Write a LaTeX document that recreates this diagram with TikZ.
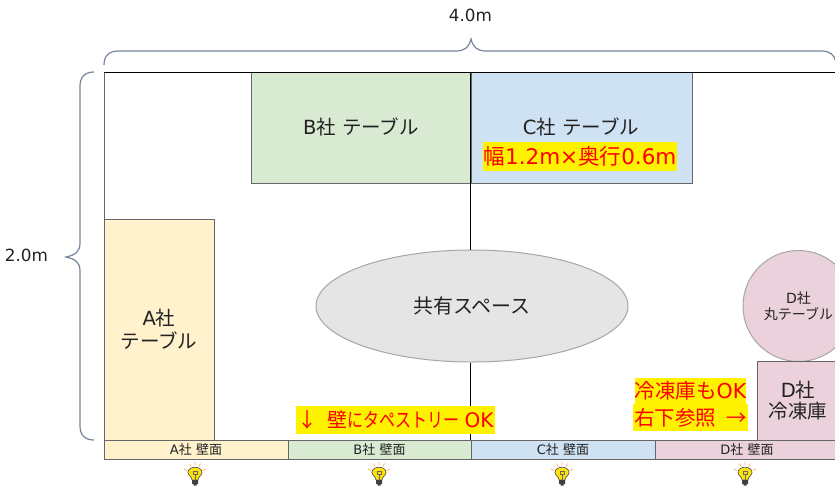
\documentclass[tikz,border=0pt]{standalone}
\usepackage{fontspec}
\setmainfont{DejaVu Sans}
\newfontfamily\jpfont{Noto Sans CJK JP}
\newfontfamily\jpnarrow[FakeStretch=0.8]{Noto Sans CJK JP}
\usetikzlibrary{shapes.geometric}
\definecolor{lineg}{HTML}{666666}
\definecolor{brc}{HTML}{74849B}
\definecolor{txt}{HTML}{222222}
\definecolor{compA}{HTML}{FFF2CC}
\definecolor{compB}{HTML}{D9EAD3}
\definecolor{compC}{HTML}{CFE2F3}
\definecolor{compD}{HTML}{EAD1DC}
\newcommand{\fs}[1]{\fontsize{#1}{#1}\selectfont}
\newcommand{\jp}[1]{{\jpfont #1}}
\begin{document}
\begin{tikzpicture}[x=1pt,y=-1pt,
	every node/.style={text=txt,inner sep=0,align=center},
	tbl/.style={rectangle,draw=lineg,line width=1pt,minimum width=#1},
	wall/.style={tbl=#1,minimum height=19pt,font=\fs{13}},
	note/.style={fill=yellow,text=red,font=\fs{#1}},
	brc/.style={draw=brc,line width=1.2pt},
	bulb/.pic={
		\draw[orange!60,line width=.7pt] (-11,-6.5) -- (-8,-5) (-5.5,-12) -- (-4,-9) (0,-14) -- (0,-10) (5.5,-12) -- (4,-9) (11,-6.5) -- (8,-5);
		\fill[yellow!85!orange,draw=black!65,line width=.7pt] (-3,4.5) .. controls (-3,1) and (-7,0) .. (-7,-3) .. controls (-7,-10) and (7,-10) .. (7,-3) .. controls (7,0) and (3,1) .. (3,4.5) -- cycle;
		\draw[black!60,line width=.5pt] (-2,-4) rectangle (2,-1) (0,-1) -- (0,4.5);
		\fill[black!75] (-3,4.5) rectangle (3,8.5) (-1.5,8.5) rectangle (1.5,10);
	}]
\useasboundingbox (0,0) rectangle (835,488);
% room
\coordinate (tl) at (104,72);
\coordinate (tr) at (835,72);
\coordinate (bl) at (104,440);
\draw[lineg,line width=1pt] (tl) -- (bl);
% tables
\node[tbl=220pt,minimum height=111pt,fill=compB] (tableB) at (361,127.5) {};
\node[tbl=221pt,minimum height=111pt,fill=compC] (tableC) at (581.5,127.5) {};
\node[font=\fs{19.5}] (labelB) at (361,127) {B\jp{社} \jp{テーブル}};
\node[font=\fs{19.5}] (labelC) at (581,127) {C\jp{社} \jp{テーブル}};
\node[note=21.5,minimum width=194pt,minimum height=29pt] (sizeC) at (580,156.5) {\jp{幅}1.2m×\jp{奥行}0.6m};
\node[tbl=110pt,minimum height=221pt,fill=compA,font=\fs{19.5}] (tableA) at (159,329.5) {A\jp{社}\\[3pt]\jp{テーブル}};
\node[ellipse,draw=black!35,line width=1pt,fill=black!10,minimum width=312pt,minimum height=112pt,font=\fs{20}] (shared) at (472,306) {\jp{共有スペース}};
\draw[black,line width=1pt] (tableC.north west) -- (tableC.north west |- shared.north);
\draw[black,line width=1pt] (tableC.north west |- shared.south) -- (tableC.north west |- bl);
\draw[black,line width=1pt] (tl) -- (tr);
\node[circle,draw=black!35,line width=1pt,fill=compD,minimum size=111pt,font=\fs{14}] (tableD) at (798.5,306) {D\jp{社}\\[2pt]\jp{丸テーブル}};
\node[tbl=82pt,minimum height=79pt,fill=compD,font=\fs{19.5}] (fridge) at (798,400.5) {D\jp{社}\\[2pt]\jp{冷凍庫}};
% notes
\node[note=20,minimum width=199pt,minimum height=28pt] (wallnote) at (395.5,420) {\jp{↓}\hspace{10pt}\jp{壁}{\jpnarrow にタペストリー}\hspace{5pt}OK};
\node[note=20.5,minimum width=111pt,minimum height=26pt] (fridgeA) at (690.5,391) {\jp{冷凍庫も}OK};
\node[note=20.5,minimum width=115pt,minimum height=27pt] (fridgeB) at (690.5,417.5) {\jp{右下参照}\hspace{10pt}\jp{→}};
% wall strip
\node[wall=184pt,fill=compA] (wallA) at (196,449.5) {A\jp{社} \jp{壁面}};
\node[wall=183pt,fill=compB] (wallB) at (379.5,449.5) {B\jp{社} \jp{壁面}};
\node[wall=184pt,fill=compC] (wallC) at (563,449.5) {C\jp{社} \jp{壁面}};
\node[wall=184pt,fill=compD] (wallD) at (747,449.5) {D\jp{社} \jp{壁面}};
\foreach \x in {195,379,562,745}
	\pic at (\x,475.5) {bulb};
% braces
\draw[brc] (104,65) .. controls (104,56) and (109,51) .. (118,51) -- (456,51) .. controls (465,51) and (469,47) .. (471,39) .. controls (473,47) and (477,51) .. (486,51) -- (822,51) .. controls (830,51) and (835,56) .. (835,60);
\draw[brc] (94,72) .. controls (85,72) and (80,77) .. (80,86) -- (80,243) .. controls (80,252) and (75,255) .. (66,257) .. controls (75,259) and (80,262) .. (80,271) -- (80,426) .. controls (80,435) and (85,440) .. (94,440);
\node[font=\fs{16.8}] (width) at (470.5,15) {4.0m};
\node[font=\fs{16.8}] (height) at (26.5,255) {2.0m};
\end{tikzpicture}
\end{document}
